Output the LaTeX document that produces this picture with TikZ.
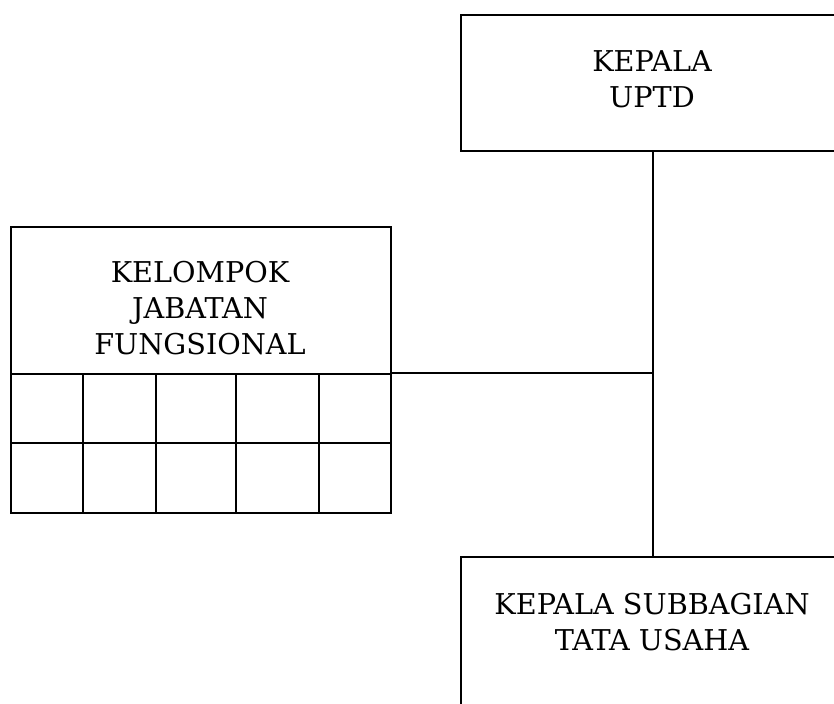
\documentclass[tikz,border=0pt]{standalone}
\usepackage{fontspec}
\setmainfont{DejaVu Serif}
\usetikzlibrary{positioning}

\begin{document}
\begin{tikzpicture}[x=0.75pt,y=-0.75pt,
    every node/.style={draw=black,line width=1.3pt,rectangle,inner sep=0pt},
    unit/.style={minimum width=288pt,anchor=north west},
    txt/.style={draw=none,align=center,font=\fontsize{21.5}{27}\selectfont}]
            \useasboundingbox (0,0) rectangle (834,703);

            % boxes
            \node[unit,minimum height=102pt] (uptd) at (460,14) {};
            \node[unit,minimum height=130pt] (tu) at (460,556) {};
            \node[minimum width=285pt,minimum height=110.25pt,anchor=north west] (kjf) at (10,226) {};

            % cells under the group box
            \foreach \xa/\xb [count=\c] in {10/82,82/155,155/235,235/318,318/390}
                \foreach \ya [count=\r] in {373,442.5}
                    \node[minimum width=(\xb-\xa)*0.75pt,minimum height=52.1pt,anchor=north west] (c-\r-\c) at (\xa,\ya) {};

            % labels
            \node[txt] (uptdtxt) at (652,79) {KEPALA\\UPTD};
            \node[txt] (kjftxt) at (200,308) {KELOMPOK\\JABATAN\\FUNGSIONAL};
            \node[txt] (tutxt) at (652,622) {KEPALA SUBBAGIAN\\TATA USAHA};

            % lines
            \draw[line width=1.3pt] (uptd.south) -- (tu.north);
            \draw[line width=1.3pt] (c-1-5.north east) -- (c-1-5.north east -| uptd.south);
        \end{tikzpicture}
\end{document}
